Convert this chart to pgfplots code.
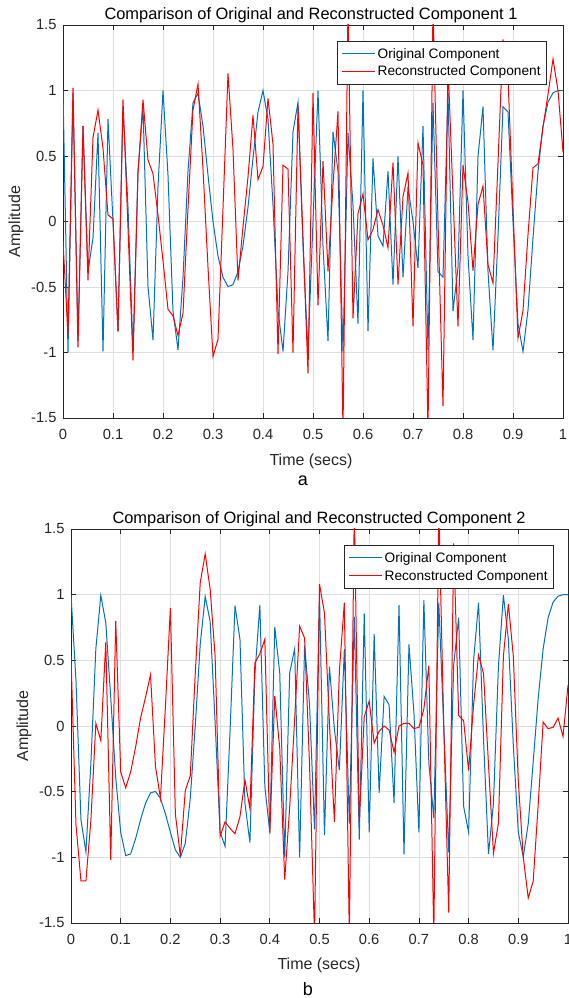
\documentclass[border=0pt]{standalone}
\usepackage{pgfplots}
\usepackage{pgfplotstable}
\pgfplotsset{compat=1.18}
\usepackage{fontspec}
\setmainfont{Liberation Sans}
\definecolor{mblue}{rgb}{0,0.447,0.741}
\definecolor{axcol}{rgb}{0.15,0.15,0.15}
\definecolor{gridcol}{rgb}{0.875,0.875,0.875}

\pgfplotstableread{
t orig rec
0.00 1.0000 -0.15
0.01 -0.9989 -0.87
0.02 0.9823 1.02
0.03 -0.9114 -0.96
0.04 0.7290 0.73
0.05 -0.3827 -0.45
0.06 -0.1253 0.64
0.07 0.6758 0.85
0.08 -0.9921 0.56
0.09 0.7804 0.05
0.10 0.0000 0.02
0.11 -0.8358 -0.84
0.12 0.8763 0.93
0.13 0.1097 -0.05
0.14 -0.9823 -1.06
0.15 0.3827 0.37
0.16 0.8763 0.93
0.17 -0.4970 0.47
0.18 -0.9048 0.365
0.19 0.2639 0.05
0.20 1.0000 -0.30
0.21 0.3535 -0.67
0.22 -0.6845 -0.72
0.23 -0.9792 -0.87
0.24 -0.4258 -0.70
0.25 0.3827 0.10
0.26 0.9048 0.85
0.27 0.9792 1.05
0.28 0.7290 0.40
0.29 0.3535 -0.35
0.30 0.0000 -1.03
0.31 -0.2639 -0.90
0.32 -0.4258 0.10
0.33 -0.4970 1.13
0.34 -0.4818 0.55
0.35 -0.3827 -0.45
0.36 -0.1874 -0.04
0.37 0.1097 0.34
0.38 0.4818 0.81
0.39 0.8358 0.32
0.40 1.0000 0.42
0.41 0.7804 0.94
0.42 0.1253 0.59
0.43 -0.6758 -1.01
0.44 -0.9921 0.43
0.45 -0.3827 0.40
0.46 0.6845 -1.00
0.47 0.9114 0.885
0.48 -0.1874 -0.12
0.49 -0.9989 -1.16
0.50 0.0000 0.98
0.51 0.9989 -0.64
0.52 -0.1874 0.46
0.53 -0.9114 -0.38
0.54 0.6845 0.28
0.55 0.3827 0.84
0.56 -0.9921 -1.60
0.57 0.6758 1.65
0.58 0.1253 -0.74
0.59 -0.7804 0.06
0.60 1.0000 0.21
0.61 -0.8358 -0.14
0.62 0.4818 -0.06
0.63 -0.1097 0.09
0.64 -0.1874 -0.03
0.65 0.3827 -0.20
0.66 -0.4818 0.45
0.67 0.4970 -0.48
0.68 -0.4258 0.19
0.69 0.2639 0.37
0.70 0.0000 -0.80
0.71 -0.3535 0.60
0.72 0.7290 0.43
0.73 -0.9792 -1.60
0.74 0.9048 1.65
0.75 -0.3827 0.00
0.76 -0.4258 -1.41
0.77 0.9792 1.20
0.78 -0.6845 0.20
0.79 -0.3535 -0.80
0.80 1.0000 0.43
0.81 -0.2639 0.15
0.82 -0.9048 -0.375
0.83 0.4970 0.13
0.84 0.8763 0.27
0.85 -0.3827 -0.33
0.86 -0.9823 -0.47
0.87 -0.1097 0.45
0.88 0.8763 1.39
0.89 0.8358 1.10
0.90 0.0000 0.10
0.91 -0.7804 -0.89
0.92 -0.9921 -0.68
0.93 -0.6758 -0.10
0.94 -0.1253 0.41
0.95 0.3827 0.44
0.96 0.7290 0.72
0.97 0.9114 0.97
0.98 0.9823 1.24
0.99 0.9989 1.00
1.00 1.0000 0.53
}\dataA

\pgfplotstableread{
t orig rec
0.00 1.0000 0.53
0.01 0.3473 -0.75
0.02 -0.7126 -1.18
0.03 -0.9587 -1.18
0.04 -0.2850 -0.72
0.05 0.5878 0.02
0.06 0.9950 -0.11
0.07 0.7862 0.64
0.08 0.2120 -1.02
0.09 -0.3934 0.80
0.10 -0.8090 -0.35
0.11 -0.9867 -0.47
0.12 -0.9745 -0.35
0.13 -0.8577 -0.16
0.14 -0.7126 0.06
0.15 -0.5878 0.22
0.16 -0.5090 0.39
0.17 -0.4982 -0.31
0.18 -0.5514 -0.55
0.19 -0.6690 0.15
0.20 -0.8090 0.90
0.21 -0.9431 -0.67
0.22 -0.9997 -0.99
0.23 -0.8936 -0.49
0.24 -0.5514 -0.38
0.25 0.0000 0.40
0.26 0.6211 1.09
0.27 0.9867 1.31
0.28 0.7965 1.04
0.29 0.0251 0.53
0.30 -0.8090 -0.84
0.31 -0.9158 -0.73
0.32 -0.0377 -0.78
0.33 0.9158 -0.82
0.34 0.6591 -0.69
0.35 -0.5878 -0.41
0.36 -0.8879 -0.63
0.37 0.3934 0.48
0.38 0.9212 0.55
0.39 -0.4601 0.66
0.40 -0.8090 -0.82
0.41 0.7536 0.23
0.42 0.4040 -0.17
0.43 -0.9993 -1.17
0.44 0.4040 -0.62
0.45 0.5878 0.05
0.46 -0.9997 0.76
0.47 0.6129 0.67
0.48 0.1629 -0.30
0.49 -0.7862 -1.60
0.50 1.0000 1.08
0.51 -0.8315 0.86
0.52 0.4524 0.02
0.53 -0.0251 -0.73
0.54 -0.3349 0.42
0.55 0.5878 0.94
0.56 -0.7437 -1.60
0.57 0.8315 1.65
0.58 -0.8642 -0.73
0.59 0.8577 0.07
0.60 -0.8090 0.19
0.61 0.7014 -0.13
0.62 -0.5090 -0.04
0.63 0.2250 0.00
0.64 0.1629 -0.03
0.65 -0.5878 -0.20
0.66 0.9212 0.00
0.67 -0.9774 0.02
0.68 0.6211 0.02
0.69 0.1003 -0.02
0.70 -0.8090 -0.01
0.71 0.9587 0.13
0.72 -0.2823 0.46
0.73 -0.7014 -1.60
0.74 0.9385 1.65
0.75 0.0000 0.00
0.76 -0.9620 -1.42
0.77 0.4640 1.39
0.78 0.8245 0.08
0.79 -0.6129 0.04
0.80 -0.8090 -0.34
0.81 0.4982 0.16
0.82 0.9385 0.54
0.83 -0.1003 0.40
0.84 -0.9748 -0.29
0.85 -0.5878 -0.97
0.86 0.4524 -0.74
0.87 0.9961 0.53
0.88 0.6591 0.93
0.89 -0.1502 0.53
0.90 -0.8090 -0.42
0.91 -0.9961 -1.00
0.92 -0.7437 -1.31
0.93 -0.2723 -1.18
0.94 0.2120 -0.60
0.95 0.5878 0.03
0.96 0.8245 -0.02
0.97 0.9431 -0.01
0.98 0.9887 0.06
0.99 0.9993 -0.08
1.00 1.0000 0.31
}\dataB

\pgfplotsset{
  mstyle/.style={
    scale only axis,
    xmin=0, xmax=1, ymin=-1.5, ymax=1.5,
    xtick={0,0.1,0.2,0.3,0.4,0.5,0.6,0.7,0.8,0.9,1},
    xticklabels={0,0.1,0.2,0.3,0.4,0.5,0.6,0.7,0.8,0.9,1},
    ytick={-1.5,-1,-0.5,0,0.5,1,1.5},
    yticklabels={-1.5,-1,-0.5,0,0.5,1,1.5},
    tick align=inside, tick pos=both,
    xticklabel pos=bottom, yticklabel pos=left,
    major tick length=5pt,
    grid=major, grid style={gridcol, line width=0.7pt},
    axis line style={axcol, line width=0.8pt},
    tick style={axcol, line width=0.8pt},
    ticklabel style={font=\fontsize{14.7}{16}\selectfont, text=axcol},
    xticklabel style={yshift=-8pt},
    yticklabel style={xshift=-3pt},
    legend cell align=left,
    legend style={font=\fontsize{13.7}{16}\selectfont, draw=axcol, line width=0.8pt,
      fill=white, at={(1,1)}, anchor=north east, yshift=-16pt,
      inner xsep=4pt, inner ysep=4.75pt, row sep=2.5pt},
    legend image code/.code={\draw[#1, line width=1pt] (0pt,0pt) -- (33pt,0pt);},
  }
}

\begin{document}
\begin{tikzpicture}[x=1pt,y=1pt]
\begin{axis}[mstyle, width=500pt, height=393pt, at={(63pt,580pt)}, anchor=south west,
  legend style={xshift=-16pt}]
\addplot[mblue, line width=1pt] table[x=t, y=orig] {\dataA};
\addplot[red, line width=1pt] table[x=t, y=rec] {\dataA};
\legend{Original Component, Reconstructed Component}
\end{axis}
\begin{axis}[mstyle, width=497pt, height=394pt, at={(71pt,75pt)}, anchor=south west,
  legend style={xshift=-14pt}]
\addplot[mblue, line width=1pt] table[x=t, y=orig] {\dataB};
\addplot[red, line width=1pt] table[x=t, y=rec] {\dataB};
\legend{Original Component, Reconstructed Component}
\end{axis}
\node[font=\fontsize{16.4}{18}\selectfont, anchor=base] at (311,978.5) {Comparison of Original and Reconstructed Component 1};
\node[font=\fontsize{16}{18}\selectfont, anchor=base, text=axcol] at (311,532) {Time (secs)};
\node[font=\fontsize{16}{18}\selectfont, rotate=90, text=axcol] at (16,776.5) {Amplitude};
\node[font=\fontsize{18}{20}\selectfont, anchor=base] at (303,512) {a};
\node[font=\fontsize{16.4}{18}\selectfont, anchor=base] at (319,474.5) {Comparison of Original and Reconstructed Component 2};
\node[font=\fontsize{16}{18}\selectfont, anchor=base, text=axcol] at (319,28) {Time (secs)};
\node[font=\fontsize{16}{18}\selectfont, rotate=90, text=axcol] at (24,272) {Amplitude};
\node[font=\fontsize{18}{20}\selectfont, anchor=base] at (308,2) {b};
\pgfresetboundingbox
\useasboundingbox (0,0) rectangle (568,998);
\end{tikzpicture}
\end{document}
